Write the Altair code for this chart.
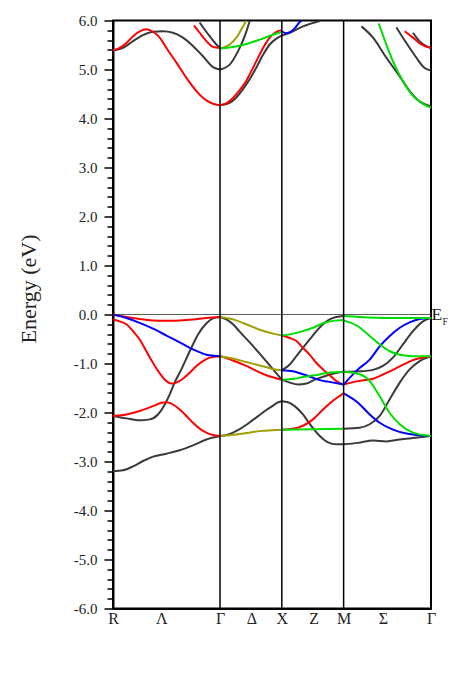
import altair as alt
import pandas as pd

# high-symmetry path (units of 2*pi/a): R - Gamma - X - M - Gamma
SYM_K = [0.866, 1.366, 1.866]
TICK_K = [0, 0.39, 0.866, 1.12, 1.366, 1.624, 1.866, 2.184, 2.573]
TICK_LABELS = ["R", "Λ", "Γ", "Δ", "X", "Z", "M", "Σ", "Γ"]

# ---------------- valence bands ----------------
# R - Gamma
rg_red_top = ([0, 0.108, 0.216, 0.324, 0.432, 0.540, 0.647, 0.756, 0.866],
              [0.0, -0.05, -0.09, -0.12, -0.13, -0.12, -0.10, -0.07, -0.05])
rg_blue = ([0, 0.108, 0.216, 0.324, 0.432, 0.540, 0.647, 0.756, 0.866],
           [0.0, -0.07, -0.17, -0.29, -0.43, -0.57, -0.71, -0.82, -0.85])
rg_red_mid = ([0, 0.054, 0.108, 0.162, 0.216, 0.270, 0.324, 0.378, 0.432, 0.472, 0.513, 0.566, 0.621, 0.675, 0.728, 0.782, 0.866],
              [-0.10, -0.14, -0.20, -0.34, -0.51, -0.75, -0.99, -1.20, -1.36, -1.41, -1.39, -1.31, -1.19, -1.05, -0.95, -0.88, -0.85])
rg_black_cross = ([0, 0.108, 0.216, 0.297, 0.364, 0.418, 0.459, 0.499, 0.553, 0.621, 0.688, 0.756, 0.809, 0.866],
                  [-2.07, -2.12, -2.16, -2.14, -2.04, -1.84, -1.63, -1.39, -1.12, -0.75, -0.41, -0.18, -0.08, -0.05])
rg_red_low = ([0, 0.108, 0.216, 0.324, 0.392, 0.432, 0.472, 0.540, 0.594, 0.647, 0.701, 0.756, 0.809, 0.866],
              [-2.07, -2.04, -1.97, -1.87, -1.80, -1.79, -1.82, -1.94, -2.07, -2.21, -2.33, -2.41, -2.46, -2.48])
rg_black_bot = ([0, 0.081, 0.162, 0.243, 0.324, 0.432, 0.540, 0.647, 0.756, 0.866],
                [-3.20, -3.18, -3.10, -2.99, -2.90, -2.84, -2.77, -2.67, -2.55, -2.48])
# Gamma - X
gx_olive_top = ([0.866, 0.971, 1.079, 1.187, 1.294, 1.366],
                [-0.05, -0.10, -0.20, -0.31, -0.39, -0.43])
gx_black_top = ([0.866, 0.917, 0.971, 1.025, 1.106, 1.187, 1.268, 1.366],
                [-0.05, -0.10, -0.20, -0.35, -0.57, -0.80, -1.04, -1.33])
gx_olive_mid = ([0.866, 0.971, 1.079, 1.187, 1.276, 1.366],
                [-0.85, -0.90, -0.97, -1.04, -1.10, -1.14])
gx_red = ([0.866, 0.971, 1.079, 1.160, 1.241, 1.366],
          [-0.85, -0.94, -1.05, -1.15, -1.24, -1.33])
gx_black_low = ([0.866, 0.920, 0.971, 1.025, 1.079, 1.133, 1.187, 1.241, 1.295, 1.330, 1.366],
                [-2.48, -2.46, -2.41, -2.34, -2.25, -2.15, -2.05, -1.95, -1.86, -1.80, -1.77])
gx_olive_bot = ([0.866, 1.025, 1.187, 1.366],
                [-2.48, -2.44, -2.38, -2.35])
# X - M
xm_green_top = ([1.366, 1.456, 1.537, 1.618, 1.699, 1.780, 1.866],
                [-0.43, -0.39, -0.34, -0.27, -0.18, -0.13, -0.11])
xm_red = ([1.366, 1.430, 1.484, 1.537, 1.591, 1.646, 1.699, 1.753, 1.807, 1.866],
          [-0.43, -0.48, -0.54, -0.68, -0.82, -0.99, -1.12, -1.24, -1.36, -1.43])
xm_black_up = ([1.366, 1.430, 1.484, 1.537, 1.591, 1.646, 1.699, 1.753, 1.807, 1.866],
               [-1.14, -1.02, -0.85, -0.68, -0.51, -0.34, -0.20, -0.10, -0.05, -0.03])
xm_blue = ([1.366, 1.456, 1.537, 1.618, 1.673, 1.740, 1.866],
           [-1.14, -1.16, -1.22, -1.29, -1.34, -1.37, -1.43])
xm_green_mid = ([1.366, 1.470, 1.551, 1.632, 1.740, 1.866],
                [-1.33, -1.31, -1.27, -1.24, -1.19, -1.17])
xm_black_mid = ([1.366, 1.430, 1.497, 1.565, 1.632, 1.713, 1.794, 1.866],
                [-1.33, -1.39, -1.43, -1.41, -1.33, -1.26, -1.20, -1.17])
xm_black_low = ([1.366, 1.416, 1.470, 1.537, 1.605, 1.673, 1.740, 1.807, 1.866],
                [-1.77, -1.79, -1.87, -2.04, -2.28, -2.48, -2.61, -2.65, -2.65])
xm_red_low = ([1.366, 1.456, 1.537, 1.618, 1.699, 1.780, 1.866],
              [-2.35, -2.33, -2.27, -2.14, -1.94, -1.76, -1.61])
xm_green_low = ([1.366, 1.616, 1.866],
                [-2.35, -2.34, -2.33])
# M - Gamma
mg_green_top = ([1.866, 1.996, 2.239, 2.573],
                [-0.03, -0.05, -0.07, -0.07])
mg_blue_up = ([1.866, 1.982, 2.077, 2.158, 2.239, 2.320, 2.400, 2.481, 2.573],
              [-1.43, -1.12, -0.92, -0.65, -0.44, -0.27, -0.16, -0.09, -0.07])
mg_green_mid = ([1.866, 1.982, 2.077, 2.158, 2.239, 2.320, 2.427, 2.573],
                [-0.12, -0.24, -0.44, -0.61, -0.75, -0.82, -0.85, -0.85])
mg_black_up = ([1.866, 1.996, 2.104, 2.184, 2.265, 2.346, 2.427, 2.508, 2.573],
               [-1.17, -1.16, -1.13, -1.05, -0.88, -0.61, -0.34, -0.14, -0.07])
mg_red = ([1.866, 1.982, 2.104, 2.212, 2.320, 2.427, 2.573],
          [-1.43, -1.36, -1.31, -1.19, -1.06, -0.93, -0.85])
mg_black_low = ([1.866, 1.996, 2.077, 2.158, 2.239, 2.320, 2.400, 2.481, 2.573],
                [-2.33, -2.31, -2.24, -2.07, -1.73, -1.39, -1.12, -0.95, -0.85])
mg_green_low = ([1.866, 1.996, 2.077, 2.158, 2.239, 2.320, 2.427, 2.573],
                [-1.17, -1.22, -1.36, -1.67, -2.01, -2.24, -2.41, -2.48])
mg_blue_low = ([1.866, 1.982, 2.077, 2.158, 2.265, 2.374, 2.573],
               [-1.61, -1.80, -2.04, -2.21, -2.35, -2.43, -2.48])
mg_black_bot = ([1.866, 1.982, 2.104, 2.212, 2.320, 2.427, 2.573],
                [-2.65, -2.62, -2.57, -2.59, -2.55, -2.52, -2.48])

# ---------------- conduction bands ----------------
rgc_red = ([0, 0.054, 0.108, 0.162, 0.216, 0.270, 0.324, 0.378, 0.432, 0.513, 0.594, 0.675, 0.756, 0.823, 0.866],
           [5.39, 5.44, 5.54, 5.68, 5.78, 5.82, 5.77, 5.65, 5.44, 5.14, 4.83, 4.56, 4.37, 4.29, 4.27])
rgc_black = ([0, 0.081, 0.162, 0.243, 0.324, 0.405, 0.485, 0.566, 0.647, 0.728, 0.809, 0.866],
             [5.39, 5.44, 5.58, 5.70, 5.77, 5.78, 5.75, 5.65, 5.48, 5.27, 5.05, 5.00])
rgc_red_hi = ([0.655, 0.701, 0.756, 0.809, 0.866],
              [5.90, 5.75, 5.58, 5.46, 5.44])
rgc_black_hi = ([0.701, 0.782, 0.836, 0.866],
                [5.96, 5.68, 5.51, 5.44])
gxc_olive = ([0.866, 0.944, 0.998, 1.039, 1.079],
             [5.43, 5.51, 5.65, 5.82, 6.00])
gxc_black_hi = ([0.866, 0.944, 1.011, 1.066, 1.106],
                [5.00, 5.10, 5.37, 5.68, 5.99])
gxc_green = ([0.866, 0.971, 1.079, 1.187, 1.294, 1.366],
             [5.43, 5.46, 5.52, 5.61, 5.71, 5.77])
gxc_red = ([0.866, 0.917, 0.971, 1.025, 1.079, 1.106, 1.160, 1.214, 1.268, 1.322, 1.366],
           [4.27, 4.31, 4.42, 4.58, 4.77, 4.90, 5.17, 5.44, 5.65, 5.77, 5.80])
gxc_black = ([0.866, 0.944, 0.998, 1.052, 1.106, 1.160, 1.214, 1.268, 1.322, 1.366],
             [4.27, 4.32, 4.43, 4.60, 4.80, 5.04, 5.30, 5.51, 5.63, 5.69])
xmc_blue = ([1.366, 1.397, 1.430, 1.470, 1.511, 1.527],
            [5.78, 5.74, 5.76, 5.84, 5.97, 6.00])
xmc_black = ([1.366, 1.430, 1.537, 1.673],
             [5.69, 5.75, 5.88, 5.99])
mgc_black1 = ([2.010, 2.104, 2.212, 2.320, 2.400, 2.481, 2.573],
              [5.88, 5.65, 5.24, 4.86, 4.56, 4.35, 4.25])
mgc_green = ([2.150, 2.212, 2.265, 2.346, 2.427, 2.508, 2.573],
             [5.94, 5.51, 5.17, 4.76, 4.46, 4.30, 4.22])
mgc_black2 = ([2.293, 2.374, 2.455, 2.522, 2.573],
              [5.86, 5.54, 5.24, 5.03, 4.98])
mgc_red = ([2.360, 2.427, 2.495, 2.573],
           [5.78, 5.65, 5.51, 5.44])
mgc_black3 = ([2.427, 2.495, 2.573],
              [5.75, 5.54, 5.44])

BANDS = [
    ("black", rg_black_cross), ("black", rg_black_bot), ("black", gx_black_top), ("black", gx_black_low),
    ("black", xm_black_up), ("black", xm_black_mid), ("black", xm_black_low),
    ("black", mg_black_up), ("black", mg_black_low), ("black", mg_black_bot),
    ("black", rgc_black), ("black", rgc_black_hi), ("black", gxc_black_hi), ("black", gxc_black),
    ("black", xmc_black), ("black", mgc_black1), ("black", mgc_black2), ("black", mgc_black3),
    ("red", rg_red_top), ("red", rg_red_mid), ("red", rg_red_low), ("red", gx_red), ("red", xm_red),
    ("red", xm_red_low), ("red", mg_red), ("red", rgc_red), ("red", rgc_red_hi), ("red", gxc_red), ("red", mgc_red),
    ("blue", rg_blue), ("blue", xm_blue), ("blue", mg_blue_up), ("blue", mg_blue_low), ("blue", xmc_blue),
    ("olive", gx_olive_top), ("olive", gx_olive_mid), ("olive", gx_olive_bot), ("olive", gxc_olive),
    ("green", xm_green_top), ("green", xm_green_mid), ("green", xm_green_low),
    ("green", mg_green_top), ("green", mg_green_mid), ("green", mg_green_low),
    ("green", gxc_green), ("green", mgc_green),
]

rows = []
for bi, (grp, (ks, es)) in enumerate(BANDS):
    for j, (k, e) in enumerate(zip(ks, es)):
        rows.append({"band": bi, "grp": grp, "k": k, "E": e, "o": j})
df = pd.DataFrame(rows)

FONT = "Liberation Serif"
xscale = alt.Scale(domain=[0, 2.573], nice=False, zero=False)
yscale = alt.Scale(domain=[-6, 6], nice=False, zero=False)

is_major = "abs(datum.value - round(datum.value)) < 0.01"
y_axis = alt.Axis(
    values=[round(-6 + 0.2 * i, 1) for i in range(61)],
    labelExpr=is_major + " ? ((datum.value < -0.01 ? '-' : '') + format(abs(datum.value), '.1f')) : ''",
    tickSize={"condition": {"test": is_major, "value": 9}, "value": 6},
    tickWidth=1.5, tickColor="black", labelOverlap=False,
    labelFont=FONT, labelFontSize=15, labelColor="#222", labelPadding=7,
    domainColor="black", domainWidth=2, grid=False,
    title="Energy (eV)", titleFont=FONT, titleFontSize=22, titleFontWeight="normal",
    titleColor="#222", titleX=-73, titleY=268, titleBaseline="bottom",
)
x_axis = alt.Axis(
    values=TICK_K,
    labelExpr="[" + ",".join("'%s'" % s for s in TICK_LABELS) + "][indexof([" + ",".join(repr(v) for v in TICK_K) + "], datum.value)]",
    ticks=False, labelFont=FONT, labelFontSize=16, labelColor="#222", labelPadding=2,
    labelOverlap=False, labelFlush=False, domainColor="black", domainWidth=2, grid=False, title=None,
)

color_scale = alt.Scale(domain=["black", "red", "blue", "green", "olive"],
                        range=["#3a3a3a", "#ff0000", "#0000ff", "#00dd00", "#a0a000"])

X = alt.X("k:Q", scale=xscale, axis=x_axis)
Y = alt.Y("E:Q", scale=yscale, axis=y_axis)

lines = alt.Chart(df).mark_line(strokeWidth=2, interpolate="monotone", clip=True).encode(
    x=X, y=Y,
    color=alt.Color("grp:N", scale=color_scale, legend=None),
    detail="band:N",
    order="o:Q",
)

sym = alt.Chart(pd.DataFrame({"k": SYM_K})).mark_rule(color="black", strokeWidth=1.5).encode(x=X)
ef = alt.Chart(pd.DataFrame({"E": [0.0]})).mark_rule(color="#333", strokeWidth=0.8).encode(y=Y)
ef_pos = pd.DataFrame({"k": [2.573], "E": [0.0]})
ef_E = alt.Chart(ef_pos).mark_text(text="E", align="left", baseline="middle", dx=0.5, fontSize=17.5,
                                   font=FONT, color="#222").encode(x=X, y=Y)
ef_F = alt.Chart(ef_pos).mark_text(text="F", align="left", baseline="middle", dx=11.4, dy=7, fontSize=9.5,
                                   font=FONT, color="#222").encode(x=X, y=Y)

chart = alt.layer(lines, ef, sym, ef_E, ef_F).properties(
    width=318, height=588,
    autosize=alt.AutoSizeParams(type="none"),
    padding={"left": 105, "top": 12.5, "right": 17, "bottom": 55},
).configure_view(stroke="black", strokeWidth=2).configure_axis(labelOverlap=False)

chart.save("out.html", embed_options={"renderer": "svg", "actions": False})
